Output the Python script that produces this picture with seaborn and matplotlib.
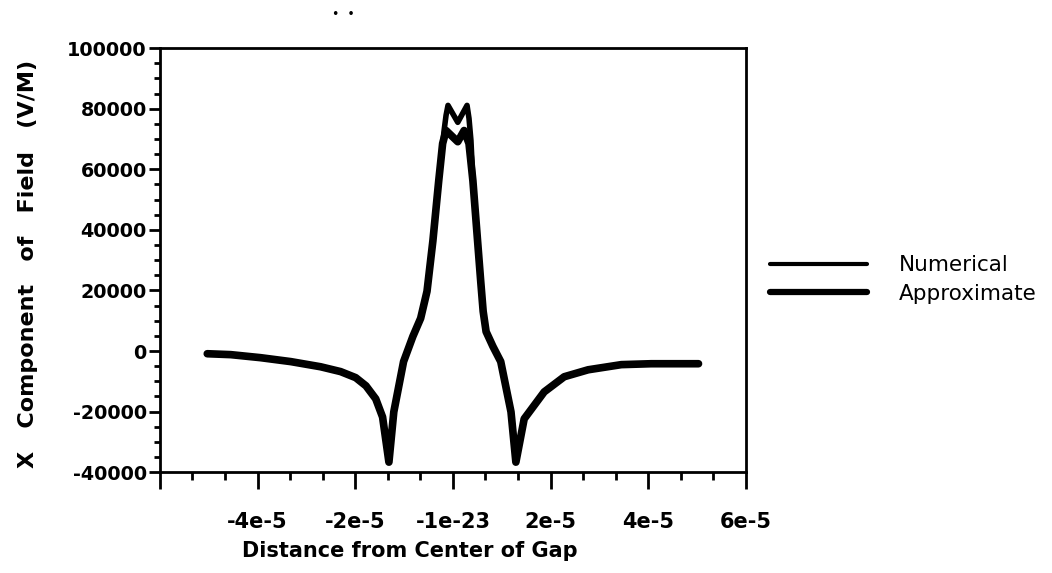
import numpy as np
import pandas as pd
import matplotlib
matplotlib.use("Agg")
import matplotlib.pyplot as plt
import seaborn as sns
from matplotlib.ticker import FixedLocator, FixedFormatter, MultipleLocator

sns.set_style("ticks")
plt.rcParams['font.family'] = ['DejaVu Sans']
plt.rcParams['text.color'] = 'black'
plt.rcParams['axes.labelcolor'] = 'black'
plt.rcParams['xtick.color'] = 'black'
plt.rcParams['ytick.color'] = 'black'

# ---- data ----
num_x = [-5.03e-5, -4.55e-5, -3.94e-5, -3.32e-5, -2.71e-5, -2.30e-5, -1.99e-5, -1.78e-5,
         -1.58e-5, -1.44e-5, -1.31e-5, -1.21e-5, -1.01e-5, -0.82e-5, -0.66e-5, -0.53e-5,
         -0.41e-5, -0.29e-5, -0.18e-5, -0.14e-5, -0.10e-5, 0.10e-5, 0.29e-5, 0.33e-5,
         0.37e-5, 0.41e-5, 0.49e-5, 0.57e-5, 0.62e-5, 0.68e-5, 0.82e-5, 0.98e-5, 1.19e-5,
         1.29e-5, 1.46e-5, 1.87e-5, 2.28e-5, 2.77e-5, 3.45e-5, 4.06e-5, 5.03e-5]
num_y = [-900, -1200, -2200, -3500, -5200, -6800, -8800, -11500,
         -15800, -21800, -36700, -20100, -3500, 4800, 10800, 19700,
         36300, 56200, 72800, 77800, 81100, 75500, 81100, 76800,
         69500, 56200, 39600, 23000, 13100, 6400, 1500, -3500, -20100,
         -36700, -22400, -13500, -8500, -6200, -4500, -4200, -4200]

app_x = [-5.03e-5, -4.55e-5, -3.94e-5, -3.32e-5, -2.71e-5, -2.30e-5, -1.99e-5, -1.78e-5,
         -1.58e-5, -1.44e-5, -1.31e-5, -1.21e-5, -1.01e-5, -0.82e-5, -0.66e-5, -0.53e-5,
         -0.41e-5, -0.29e-5, -0.21e-5, -0.14e-5, 0.10e-5, 0.23e-5, 0.33e-5,
         0.41e-5, 0.49e-5, 0.57e-5, 0.62e-5, 0.68e-5, 0.82e-5, 0.98e-5, 1.19e-5,
         1.29e-5, 1.46e-5, 1.87e-5, 2.28e-5, 2.77e-5, 3.45e-5, 4.06e-5, 5.03e-5]
app_y = [-900, -1200, -2200, -3500, -5200, -6800, -8800, -11500,
         -15800, -21800, -36700, -20100, -3500, 4800, 10800, 19700,
         36300, 56200, 68500, 72800, 69100, 72800, 68500,
         56200, 39600, 23000, 13100, 6400, 1500, -3500, -20100,
         -36700, -22400, -13500, -8500, -6200, -4500, -4200, -4200]

series_names = ["Numerical", "Approximate"]
x_ticks = [-6e-5, -4e-5, -2e-5, 0.0, 2e-5, 4e-5, 6e-5]
x_tick_labels = ["", "-4e-5", "-2e-5", "-1e-23", "2e-5", "4e-5", "6e-5"]
y_ticks = [-40000, -20000, 0, 20000, 40000, 60000, 80000, 100000]
y_tick_labels = ["-40000", "-20000", "0", "20000", "40000", "60000", "80000", "100000"]

df_num = pd.DataFrame({"x": num_x, "y": num_y})
df_app = pd.DataFrame({"x": app_x, "y": app_y})

fig = plt.figure(figsize=(10.52, 5.73), dpi=100)
ax = fig.add_axes([0.152, 0.176, 0.557, 0.740])

sns.lineplot(data=df_app, x="x", y="y", ax=ax, color="black", linewidth=5.5,
             sort=False, estimator=None, label=series_names[1])
sns.lineplot(data=df_num, x="x", y="y", ax=ax, color="black", linewidth=4.0,
             sort=False, estimator=None, label=series_names[0])

ax.set_xlim(-6e-5, 6e-5)
ax.set_ylim(-40000, 100000)

ax.xaxis.set_major_locator(FixedLocator(x_ticks))
ax.xaxis.set_major_formatter(FixedFormatter(x_tick_labels))
ax.xaxis.set_minor_locator(MultipleLocator(2e-5 / 3))
ax.yaxis.set_major_locator(FixedLocator(y_ticks))
ax.yaxis.set_major_formatter(FixedFormatter(y_tick_labels))
ax.yaxis.set_minor_locator(MultipleLocator(5000))

for s in ax.spines.values():
    s.set_linewidth(2.0)
    s.set_color("black")

ax.tick_params(axis="x", which="major", direction="out", length=12, width=2,
               pad=17, labelsize=15)
ax.tick_params(axis="x", which="minor", direction="out", length=6, width=2)
ax.tick_params(axis="y", which="major", direction="out", length=8, width=2,
               pad=1.5, labelsize=13.8)
ax.tick_params(axis="y", which="minor", direction="out", length=4, width=2)
for lab in ax.get_xticklabels() + ax.get_yticklabels():
    lab.set_fontweight("bold")

ax.set_xlabel("Distance from Center of Gap", fontsize=15, fontweight="bold")
ax.set_ylabel("X   Component   of   Field   (V/M)", fontsize=16, fontweight="bold")
ax.xaxis.set_label_coords(0.427, -0.163)
ax.yaxis.set_label_coords(-0.208, 0.49)

handles, labels = ax.get_legend_handles_labels()
order = [labels.index(n) for n in series_names]
leg = ax.legend([handles[i] for i in order], [labels[i] for i in order],
                loc="center left", bbox_to_anchor=(0.732, 0.512),
                bbox_transform=fig.transFigure, frameon=False, borderpad=0,
                borderaxespad=0, handlelength=4.5, handletextpad=1.5,
                labelspacing=0.4, fontsize=15.5)
for line, lw in zip(leg.get_lines(), [3.0, 4.5]):
    line.set_linewidth(lw)

fig.text(0.326, 0.975, "\u2022  \u2022", fontsize=9, ha="center", va="center")

fig.savefig("out.png", dpi=100)
